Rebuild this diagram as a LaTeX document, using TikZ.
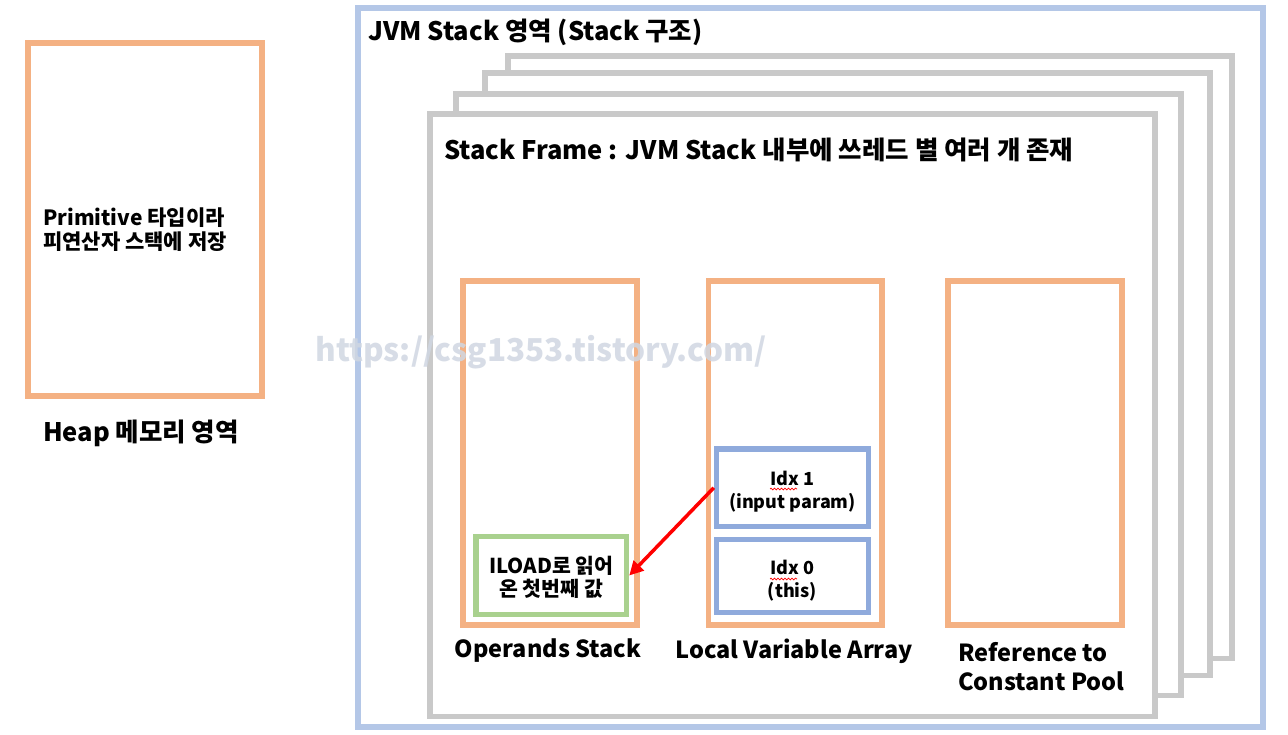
\documentclass[tikz,border=0pt]{standalone}
\usepackage{fontspec}
\setmainfont{Noto Sans CJK KR}
\usetikzlibrary{arrows.meta,decorations.pathmorphing}
\definecolor{orng}{HTML}{F4B183}
\definecolor{grayf}{HTML}{C9C9C9}
\definecolor{blueo}{HTML}{B4C7E7}
\definecolor{bluei}{HTML}{8FAADC}
\definecolor{grn}{HTML}{A9D18E}
\definecolor{wmark}{HTML}{D0D7E2}
\newcommand\rbox[6]{\node[#2, minimum width={(#5)-(#3)}, minimum height={(#6)-(#4)}] (#1) at ({((#3)+(#5))/2},{((#4)+(#6))/2}) {};}
\begin{document}
\begin{tikzpicture}[x=1pt,y=-1pt,
  frame/.style={draw, fill=white, line width=5.5pt, inner sep=0pt},
  obox/.style={frame, draw=orng},
  gbox/.style={frame, draw=grayf},
  bbox/.style={frame, draw=bluei},
  outerbox/.style={frame, draw=blueo},
  grbox/.style={frame, draw=grn},
  big/.style={font=\bfseries\fontsize{23.5}{29}\selectfont, inner sep=0pt},
  ttl/.style={font=\bfseries\fontsize{25.5}{29}\selectfont, inner sep=0pt},
  small/.style={font=\bfseries\fontsize{18}{23}\selectfont, inner sep=0pt, align=center},
  squig/.style={draw=red, line width=0.7pt, decorate, decoration={snake, amplitude=0.9pt, segment length=3.5pt}},
  arr/.style={draw=red, line width=3.5pt, -{Triangle[length=14pt,width=14pt]}}]
\useasboundingbox (0,0) rectangle (1288,735);
% heap
\rbox{heap}{obox}{28}{43}{262}{396}
\node[small, font=\bfseries\fontsize{21}{24}\selectfont, anchor=west, align=left] (heaptxt) at (43,230) {Primitive 타입이라\\피연산자 스택에 저장};
\node[ttl] (heaplbl) at (141,433) {Heap 메모리 영역};
% JVM stack
\rbox{jvm}{outerbox}{358}{8}{1263}{727}
\node[ttl, anchor=west] (jvmtitle) at (368,32) {JVM Stack 영역 (Stack 구조)};
\rbox{f3}{gbox}{508}{56}{1232}{658.5}
\rbox{f2}{gbox}{485}{73}{1210}{675.5}
\rbox{f1}{gbox}{456}{94}{1181}{695.5}
\rbox{f0}{gbox}{430}{114}{1155}{716.5}
\node[ttl, anchor=west] (ftitle) at (444,150) {Stack Frame : JVM Stack 내부에 쓰레드 별 여러 개 존재};
% inner boxes
\rbox{ops}{obox}{463}{281}{637}{625}
\rbox{lva}{obox}{708.5}{281}{882}{625}
\rbox{ref}{obox}{948}{281}{1122}{625}
\rbox{idx1}{bbox}{716.5}{449}{868.5}{526.5}
\rbox{idx0}{bbox}{716.5}{539.5}{868.5}{612.5}
\rbox{iload}{grbox}{476}{536.5}{626.5}{614.5}
\node[small, yshift=-4pt] (idx1t) at (idx1) {Idx 1\\(input param)};
\node[small, yshift=-5pt] (idx0t) at (idx0) {Idx 0\\(this)};
\node[small, font=\bfseries\fontsize{20.5}{23}\selectfont, yshift=-1.5pt] (iloadt) at (iload) {ILOAD로 읽어\\온 첫번째 값};
\node[big] (opslbl) at (548,651) {Operands Stack};
\node[big] (lvalbl) at (794,651) {Local Variable Array};
\node[big, anchor=west, align=left] (reflbl) at (958,666.5) {Reference to\\Constant Pool};
\draw[arr] (idx1.west) -- (iload.east);
% spell-check squiggles
\draw[squig] (770,489) -- (797,489);
\draw[squig] (770,579) -- (797,579);
% watermark
\node[font=\bfseries\fontsize{31.5}{36}\selectfont, text=wmark, text opacity=0.85, inner sep=0pt] (wm) at (541,352) {https://csg1353.tistory.com/};
\end{tikzpicture}
\end{document}
